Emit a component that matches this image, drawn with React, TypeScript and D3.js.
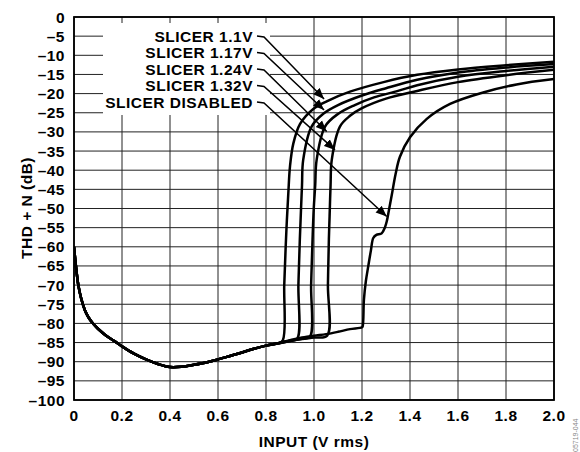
import React from "react";
import * as d3 from "d3";

const xTicks = [0, 0.2, 0.4, 0.6, 0.8, 1.0, 1.2, 1.4, 1.6, 1.8, 2.0];
const yTicks = [0, -5, -10, -15, -20, -25, -30, -35, -40, -45, -50, -55, -60, -65, -70, -75, -80, -85, -90, -95, -100];

// shared low-level portion (all curves overlap here)
const baseX = [0, 0.008, 0.018, 0.03, 0.045, 0.06, 0.08, 0.1, 0.13, 0.17, 0.2, 0.25, 0.3, 0.35, 0.4, 0.45, 0.5, 0.55, 0.6, 0.65, 0.7, 0.75, 0.8, 0.85];
const baseY = [-60, -65, -70, -73.5, -76.5, -78.4, -80.1, -81.4, -83, -84.7, -86, -87.9, -89.4, -90.6, -91.4, -91.3, -90.8, -90.2, -89.4, -88.5, -87.6, -86.6, -85.8, -85.2];

const s110X = [0.87, 0.876, 0.882, 0.887, 0.893, 0.9, 0.914, 0.942, 0.997, 1.053, 1.15, 1.29, 1.43, 1.6, 1.8, 2.0];
const s110Y = [-84.4, -70, -60, -53, -46, -39, -33, -27.9, -24, -22, -19.5, -17, -15.1, -13.7, -12.6, -11.7];

const s117X = [0.87, 0.9, 0.93, 0.935, 0.941, 0.946, 0.95, 0.955, 0.99, 1.04, 1.1, 1.2, 1.3, 1.43, 1.6, 1.8, 2.0];
const s117Y = [-84.9, -84.5, -84.0, -70, -58, -50, -44, -37.3, -28.6, -25.2, -23, -20.5, -18.6, -16.4, -14.5, -13.2, -12.3];

const s124X = [0.87, 0.9, 0.95, 0.983, 0.988, 0.994, 0.999, 1.005, 1.011, 1.046, 1.1, 1.17, 1.25, 1.35, 1.43, 1.6, 1.8, 2.0];
const s124Y = [-85.0, -84.6, -84.0, -83.5, -70, -58, -50, -44, -37.3, -28.6, -25.3, -23, -21, -19.3, -17.8, -15.6, -14.1, -13.0];

const s132X = [0.87, 0.9, 0.95, 1.0, 1.055, 1.058, 1.062, 1.065, 1.069, 1.074, 1.108, 1.15, 1.2, 1.3, 1.43, 1.6, 1.8, 2.0];
const s132Y = [-85.0, -84.6, -84.1, -83.7, -83.2, -70, -58, -52, -44, -37.3, -28.6, -25.8, -23.8, -21.3, -19.3, -17, -15.2, -13.8];

const disX = [0.87, 0.9, 0.95, 1.0, 1.05, 1.1, 1.15, 1.2, 1.203, 1.208, 1.216, 1.226, 1.237, 1.247, 1.26, 1.282, 1.295, 1.303, 1.312, 1.324, 1.34, 1.358, 1.4, 1.47, 1.567, 1.705, 1.844, 2.0];
const disY = [-84.8, -84.4, -83.7, -83.2, -82.8, -82.2, -81.5, -81.0, -80.7, -73.8, -69, -65.1, -61, -57.7, -56.9, -56.5, -55, -53.4, -50.5, -46.5, -41, -36.5, -31.4, -26.6, -22.7, -19.7, -17.6, -16.2];

const labels = ["SLICER 1.1V", "SLICER 1.17V", "SLICER 1.24V", "SLICER 1.32V", "SLICER DISABLED"];
// arrow tips, in data units (V rms, dB)
const tipX = [1.042, 1.042, 1.053, 1.0875, 1.303];
const tipY = [-21.4, -24.3, -29.9, -34.7, -52.1];

const seriesX = [s110X, s117X, s124X, s132X, disX];
const seriesY = [s110Y, s117Y, s124Y, s132Y, disY];

const W = 580;
const H = 452;
const left = 74;
const right = 554;
const top = 17;
const bottom = 400;
const FONT = "'Liberation Sans', Arial, Helvetica, sans-serif";
const FS = 15.5;
const LS = 0.5;

export default function App() {
  const x = d3.scaleLinear().domain([0, 2]).range([left, right]);
  const y = d3.scaleLinear().domain([0, -100]).range([top, bottom]);

  const line = d3
    .line<[number, number]>()
    .x((d) => x(d[0]))
    .y((d) => y(d[1]))
    .curve(d3.curveCatmullRom.alpha(0.5));

  const basePts: [number, number][] = baseX.map((v, i) => [v, baseY[i]]);
  const paths = seriesX.map((xs, k) => {
    const pts: [number, number][] = basePts.concat(xs.map((v, i) => [v, seriesY[k][i]] as [number, number]));
    return line(pts) as string;
  });

  const labelX = 253;
  const labelY0 = 36;
  const labelStep = 16.5;

  return (
    <svg width={W} height={H} style={{ position: "absolute", left: 0, top: 0, background: "#fff" }} fontFamily={FONT}>
      <defs>
        <marker id="arr" markerUnits="userSpaceOnUse" markerWidth={12} markerHeight={10} refX={11} refY={5} orient="auto">
          <path d="M0,0.5 L11,5 L0,9.5 Z" fill="#000" />
        </marker>
        <clipPath id="plot">
          <rect x={left} y={top} width={right - left} height={bottom - top} />
        </clipPath>
      </defs>
      <rect x={0} y={0} width={W} height={H} fill="#fff" />
      {/* grid */}
      {yTicks.map((t) => (
        <line key={"h" + t} x1={left} x2={right} y1={y(t)} y2={y(t)} stroke="#222" strokeWidth={1} />
      ))}
      {xTicks.map((t) => (
        <line key={"v" + t} x1={x(t)} x2={x(t)} y1={top} y2={bottom} stroke="#222" strokeWidth={1} />
      ))}
      {/* label backdrop */}
      <rect x={103} y={23} width={167} height={92} fill="#fff" />
      {/* frame */}
      <rect x={left} y={top} width={right - left} height={bottom - top} fill="none" stroke="#000" strokeWidth={1.8} />
      {/* curves */}
      <g clipPath="url(#plot)">
        {paths.map((p, i) => (
          <path key={i} d={p} fill="none" stroke="#000" strokeWidth={2.5} strokeLinejoin="round" />
        ))}
      </g>
      {/* annotations */}
      {labels.map((lab, i) => {
        const ly = labelY0 + i * labelStep;
        return (
          <g key={lab}>
            <text x={labelX} y={ly + 5.5} textAnchor="end" fontSize={FS} letterSpacing={LS} fontWeight="bold">
              {lab}
            </text>
            <polyline
              points={`257,${ly} 264,${ly + 1} ${x(tipX[i])},${y(tipY[i])}`}
              fill="none"
              stroke="#000"
              strokeWidth={1.5}
              markerEnd="url(#arr)"
            />
          </g>
        );
      })}
      {/* y tick labels */}
      {yTicks.map((t) => (
        <text key={"yl" + t} x={65} y={y(t) + 5.5} textAnchor="end" fontSize={FS} letterSpacing={LS} fontWeight="bold">
          {t === 0 ? "0" : "\u2013" + Math.abs(t)}
        </text>
      ))}
      {/* x tick labels */}
      {xTicks.map((t) => (
        <text key={"xl" + t} x={x(t)} y={421} textAnchor="middle" fontSize={FS} letterSpacing={LS} fontWeight="bold">
          {t === 0 ? "0" : t.toFixed(1)}
        </text>
      ))}
      <text x={x(1)} y={447} textAnchor="middle" fontSize={FS} letterSpacing={LS} fontWeight="bold">
        INPUT (V rms)
      </text>
      <text transform={`translate(32,208) rotate(-90)`} textAnchor="middle" fontSize={FS} letterSpacing={LS} fontWeight="bold">
        THD + N (dB)
      </text>
      <text transform={`translate(578,452) rotate(-90)`} textAnchor="start" fontSize={7} fill="#888">
        05719-044
      </text>
    </svg>
  );
}
